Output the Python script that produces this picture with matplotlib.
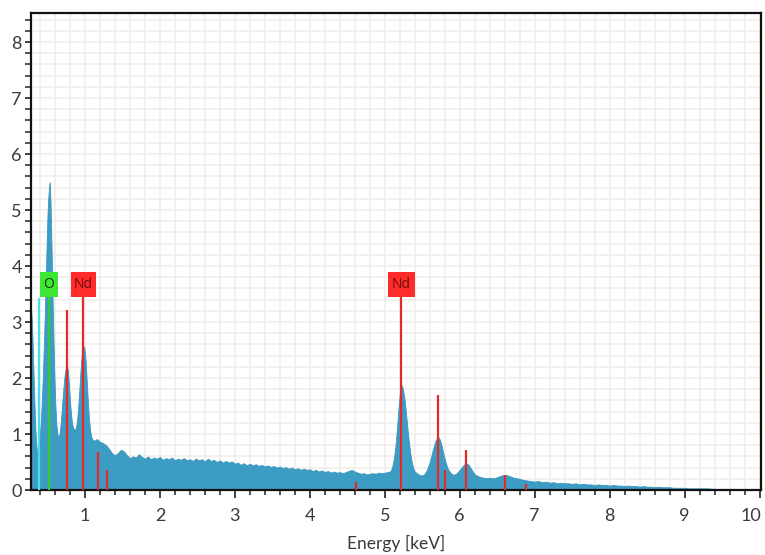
import matplotlib
matplotlib.use("Agg")
import matplotlib.pyplot as plt
from matplotlib.patches import Rectangle
from matplotlib.ticker import MultipleLocator
from matplotlib.transforms import ScaledTranslation

plt.rcParams['font.family'] = ['Lato', 'DejaVu Sans']

# EDS spectrum: energy (keV) and counts (x1000)
energy_kev = [
    0.28, 0.29, 0.30, 0.31, 0.32, 0.33, 0.34, 0.35, 0.36, 0.37, 0.38, 0.39,
    0.40, 0.41, 0.42, 0.43, 0.44, 0.45, 0.46, 0.47, 0.48, 0.49, 0.50, 0.51,
    0.52, 0.53, 0.54, 0.55, 0.56, 0.57, 0.58, 0.59, 0.60, 0.61, 0.62, 0.63,
    0.64, 0.65, 0.66, 0.67, 0.68, 0.69, 0.70, 0.71, 0.72, 0.73, 0.74, 0.75,
    0.76, 0.77, 0.78, 0.79, 0.80, 0.81, 0.82, 0.83, 0.84, 0.85, 0.86, 0.87,
    0.88, 0.89, 0.90, 0.91, 0.92, 0.93, 0.94, 0.95, 0.96, 0.97, 0.98, 0.99,
    1.00, 1.01, 1.02, 1.03, 1.04, 1.05, 1.06, 1.07, 1.08, 1.09, 1.10,
    1.12, 1.16, 1.20, 1.24, 1.28, 1.32, 1.36, 1.40, 1.44, 1.48, 1.52, 1.56,
    1.60, 1.64, 1.68, 1.72, 1.76, 1.80, 1.84, 1.88, 1.92, 1.96, 2.00, 2.04,
    2.08, 2.12, 2.16, 2.20, 2.24, 2.28, 2.32, 2.36, 2.40, 2.44, 2.48, 2.52,
    2.56, 2.60, 2.64, 2.68, 2.72, 2.76, 2.80, 2.84, 2.88, 2.92, 2.96, 3.00,
    3.04, 3.08, 3.12, 3.16, 3.20, 3.24, 3.28, 3.32, 3.36, 3.40, 3.44, 3.48,
    3.52, 3.56, 3.60, 3.64, 3.68, 3.72, 3.76, 3.80, 3.84, 3.88, 3.92, 3.96,
    4.00, 4.04, 4.08, 4.12, 4.16, 4.20, 4.24, 4.28, 4.32, 4.36, 4.40, 4.44,
    4.48, 4.52, 4.56, 4.60, 4.64, 4.68, 4.72, 4.76, 4.80, 4.84, 4.88, 4.92,
    4.96, 5.00, 5.04, 5.08,
    5.10, 5.12, 5.14, 5.16, 5.18, 5.20, 5.22, 5.24, 5.26, 5.28, 5.30, 5.32,
    5.34, 5.36, 5.38, 5.40, 5.44, 5.48, 5.52, 5.56, 5.60, 5.62, 5.64, 5.66,
    5.68, 5.70, 5.72, 5.74, 5.76, 5.78, 5.80, 5.82, 5.84, 5.88, 5.92, 5.96,
    6.00, 6.04, 6.08, 6.12, 6.16, 6.20, 6.24, 6.28, 6.32, 6.36, 6.40, 6.44,
    6.48, 6.52, 6.56, 6.60, 6.64, 6.68, 6.72, 6.76, 6.80, 6.85, 6.90, 6.95,
    7.00, 7.05, 7.10, 7.15, 7.20, 7.25, 7.30, 7.35, 7.40, 7.45, 7.50, 7.55,
    7.60, 7.65, 7.70, 7.75, 7.80, 7.85, 7.90, 7.95, 8.00, 8.05, 8.10, 8.15,
    8.20, 8.25, 8.30, 8.35, 8.40, 8.45, 8.50, 8.55, 8.60, 8.65, 8.70, 8.75,
    8.80, 8.85, 8.90, 8.95, 9.00, 9.05, 9.10, 9.20, 9.30, 9.40, 9.50, 9.60,
    9.70, 9.80, 9.90, 10.0,
]
counts = [
    3.25, 3.05, 2.70, 2.25, 1.80, 1.40, 1.05, 0.82, 0.70, 0.66, 0.72, 0.85,
    1.00, 1.20, 1.45, 1.75, 2.10, 2.50, 2.95, 3.40, 3.90, 4.45, 4.90, 5.20,
    5.40, 5.50, 5.15, 4.60, 3.95, 3.30, 2.70, 2.15, 1.70, 1.38, 1.15, 1.02,
    0.96, 0.95, 1.00, 1.10, 1.25, 1.42, 1.60, 1.78, 1.94, 2.06, 2.15, 2.20,
    2.22, 2.15, 2.00, 1.80, 1.60, 1.42, 1.28, 1.18, 1.12, 1.09, 1.08, 1.08,
    1.12, 1.20, 1.32, 1.48, 1.68, 1.90, 2.12, 2.30, 2.44, 2.52, 2.56, 2.55,
    2.45, 2.28, 2.05, 1.80, 1.56, 1.35, 1.18, 1.06, 0.98, 0.93, 0.90,
    0.88, 0.91, 0.86, 0.84, 0.80, 0.74, 0.66, 0.62, 0.66, 0.72, 0.69, 0.62,
    0.57, 0.60, 0.58, 0.64, 0.59, 0.56, 0.60, 0.55, 0.58, 0.56, 0.59, 0.54,
    0.57, 0.55, 0.58, 0.53, 0.56, 0.54, 0.57, 0.53, 0.55, 0.52, 0.56, 0.53,
    0.55, 0.51, 0.56, 0.52, 0.54, 0.50, 0.53, 0.49, 0.52, 0.49, 0.51, 0.47,
    0.49, 0.45, 0.48, 0.44, 0.47, 0.44, 0.46, 0.43, 0.45, 0.42, 0.44, 0.41,
    0.43, 0.40, 0.42, 0.39, 0.41, 0.38, 0.40, 0.37, 0.39, 0.36, 0.38, 0.36,
    0.37, 0.34, 0.36, 0.33, 0.35, 0.32, 0.34, 0.31, 0.33, 0.31, 0.32, 0.30,
    0.32, 0.34, 0.36, 0.33, 0.31, 0.29, 0.30, 0.28, 0.29, 0.30, 0.29, 0.31,
    0.30, 0.31, 0.32, 0.34,
    0.42, 0.55, 0.75, 1.05, 1.40, 1.72, 1.88, 1.82, 1.66, 1.42, 1.14, 0.88,
    0.66, 0.50, 0.39, 0.33, 0.29, 0.26, 0.27, 0.35, 0.50, 0.60, 0.71, 0.81,
    0.89, 0.93, 0.94, 0.88, 0.78, 0.66, 0.55, 0.46, 0.38, 0.30, 0.27, 0.30,
    0.36, 0.43, 0.48, 0.45, 0.36, 0.28, 0.25, 0.23, 0.22, 0.21, 0.22, 0.21,
    0.22, 0.24, 0.26, 0.27, 0.26, 0.24, 0.22, 0.21, 0.20, 0.18, 0.17, 0.16,
    0.15, 0.16, 0.14, 0.15, 0.13, 0.14, 0.12, 0.13, 0.12, 0.12, 0.11, 0.12,
    0.10, 0.11, 0.10, 0.10, 0.09, 0.10, 0.09, 0.09, 0.08, 0.09, 0.08, 0.08,
    0.07, 0.08, 0.07, 0.07, 0.06, 0.07, 0.06, 0.06, 0.05, 0.06, 0.05, 0.05,
    0.05, 0.04, 0.04, 0.04, 0.04, 0.03, 0.03, 0.03, 0.03, 0.02, 0.02, 0.02,
    0.02, 0.01, 0.01, 0.01,
]

# Element line markers (energy, marker height)
o_line_kev = [0.525]
o_line_height = [3.45]
n_line_kev = [0.39]
n_line_height = [3.43]
nd_line_kev = [0.756, 0.98, 1.17, 1.29, 4.62, 5.22, 5.71, 5.81, 6.08, 6.60, 6.88]
nd_line_height = [3.21, 3.45, 0.68, 0.36, 0.14, 3.45, 1.70, 0.36, 0.71, 0.27, 0.10]

# Peak labels
label_text = ["O", "Nd", "Nd"]
label_kev = [0.52, 0.98, 5.22]
label_width_kev = [0.24, 0.34, 0.36]
label_color = ["#3ee636", "#ff2b2b", "#ff2b2b"]
label_text_color = ["#0c3a0c", "#6a0d0d", "#6a0d0d"]

x_min, x_max = 0.28, 10.02
y_min, y_max = 0.0, 8.52

fig = plt.figure(figsize=(7.65, 5.55), dpi=100)
ax = fig.add_axes([0.0405, 0.1171, 0.9543, 0.8595])

ax.fill_between(energy_kev, 0, counts, color="#3d9cc3", linewidth=0.6,
                edgecolor="#3a97bf", zorder=2)

ax.vlines(n_line_kev, 0, n_line_height, color="#45e0ee", linewidth=1.6, zorder=3)
ax.vlines(o_line_kev, 0, o_line_height, color="#36c936", linewidth=1.6, zorder=3)
ax.vlines(nd_line_kev, 0, nd_line_height, color="#e22a2a", linewidth=1.6, zorder=3)

box_bottom, box_height = 3.45, 0.45
for txt, xc, w, fc, tc in zip(label_text, label_kev, label_width_kev,
                              label_color, label_text_color):
    ax.add_patch(Rectangle((xc - w / 2, box_bottom), w, box_height,
                           facecolor=fc, edgecolor="none", zorder=4))
    ax.text(xc, box_bottom + box_height / 2, txt, ha="center", va="center",
            fontsize=10, color=tc, zorder=5, family=["Open Sans", "DejaVu Sans"])

ax.set_xlim(x_min, x_max)
ax.set_ylim(y_min, y_max)

ax.xaxis.set_major_locator(MultipleLocator(1))
ax.xaxis.set_minor_locator(MultipleLocator(0.2))
ax.yaxis.set_major_locator(MultipleLocator(1))
ax.yaxis.set_minor_locator(MultipleLocator(0.2))

ax.grid(which="both", color="#f0eeea", linewidth=1.1, zorder=0)
ax.set_axisbelow(True)

ax.tick_params(axis="x", which="major", direction="out", length=6, width=1.3,
               color="#333333", labelsize=13, labelcolor="#3a3a3a", pad=7)
ax.tick_params(axis="x", which="minor", direction="out", length=3.8, width=1.2,
               color="#333333")
ax.tick_params(axis="y", which="major", direction="out", length=4.5, width=1.3,
               color="#333333", labelsize=13, labelcolor="#3a3a3a", pad=2)
ax.tick_params(axis="y", which="minor", direction="out", length=4.5, width=1.2,
               color="#333333")

for side in ["left", "right", "top", "bottom"]:
    ax.spines[side].set_color("#111111")
    ax.spines[side].set_linewidth(1.6)

ax.set_xlabel("Energy [keV]", fontsize=12.5, color="#3a3a3a", labelpad=8)

# keep the "10" at the right end inside the figure
fig.canvas.draw()
for lbl in ax.get_xticklabels():
    if lbl.get_text() == "10":
        lbl.set_transform(lbl.get_transform()
                          + ScaledTranslation(-6 / 72, 0, fig.dpi_scale_trans))

fig.savefig("out.png", dpi=100)
